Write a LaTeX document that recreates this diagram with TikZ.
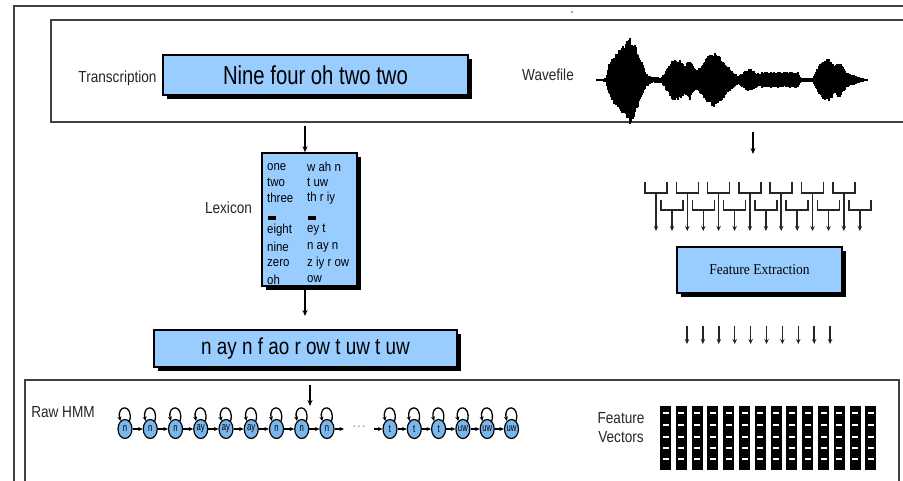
\documentclass[tikz,border=0pt]{standalone}
\usepackage{fontspec}
\setmainfont{Liberation Sans}
\newfontfamily\serifface{Liberation Serif}
\usetikzlibrary{arrows.meta,shapes.geometric}
\definecolor{boxblue}{RGB}{153,204,255}
\definecolor{nodeblue}{RGB}{120,182,236}
\definecolor{dotblue}{RGB}{110,150,200}
\newcommand{\cnd}[2][0.85]{\scalebox{#1}[1]{#2}}
\begin{document}
\begin{tikzpicture}[x=1pt,y=-1pt,
  frame/.style={draw=black!75, line width=1.8pt},
  bx/.style={draw=black, line width=1.5pt, fill=boxblue, inner sep=0,
    preaction={fill=black, transform canvas={shift={(4pt,-4pt)}}}},
  lbl/.style={font=\fontsize{16}{18}\selectfont, inner sep=0, text=black!85},
  lex/.style={font=\fontsize{13}{13}\selectfont, inner sep=0, anchor=west},
  arr/.style={line width=1.4pt, -{Stealth[length=6pt,width=5pt]}},
  sarr/.style={line width=1.3pt, -{Stealth[length=4.5pt,width=4pt]}},
  hs/.style={ellipse, draw=black, line width=1.2pt, fill=nodeblue,
    minimum width=14pt, minimum height=19pt, inner sep=0,
    font=\fontsize{11}{11}\selectfont},
  fbl/.style={line width=1.5pt, draw=black!85},
  ftip/.style={-{Stealth[length=5pt,width=4.5pt]}},
]
\useasboundingbox (0,0) rectangle (903,480);
\clip (0,0) rectangle (903,480);

% frames
\draw[frame] (14,495) -- (14,6) -- (910,6);
\draw[frame] (910,20) -- (51,20) -- (51,122) -- (910,122);
\draw[frame] (25,495) -- (25,380) -- (899,380) -- (899,495);
\fill[black!70] (572,12) circle (0.9);

% top row
\node[lbl] (ltr) at (117.5,78) {\cnd{Transcription}};
\node[bx, minimum width=305pt, minimum height=40pt] (trans) at (315.5,75)
  {\fontsize{26}{28}\selectfont\cnd[0.78]{Nine four oh two two}};
\node[lbl] (lwav) at (548,75) {\cnd{Wavefile}};

% waveform
\pgfmathsetseed{11}
\draw[line width=2.2pt] (596,80) -- (868,80);
\foreach \xa/\aa/\xb/\ab in {598/1/606/2, 606/2/609/16, 609/16/614/26, 614/26/620/32,
  620/32/626/40, 626/40/630/45, 630/45/634/40, 634/40/638/28, 638/28/642/18,
  642/18/646/7, 646/7/652/3, 652/3/662/3, 662/3/666/10, 666/10/672/20,
  672/20/678/22, 678/22/684/15, 684/15/690/20, 690/20/696/10, 696/10/702/16,
  702/16/708/24, 708/24/714/28, 714/28/720/24, 720/24/726/16, 726/16/732/10,
  732/10/738/4, 738/4/744/9, 744/9/750/12, 750/12/756/8, 756/8/760/6,
  760/6/762/8, 762/8/798/8, 798/8/801/2, 801/2/813/2, 813/2/817/12,
  817/12/823/20, 823/20/829/22, 829/22/835/15, 835/15/840/18, 840/18/846/8,
  846/8/856/4, 856/4/866/1}{
  \foreach \x in {\xa,...,\xb}{
    \pgfmathsetmacro\amp{(\aa+(\ab-\aa)*(\x-\xa)/(\xb-\xa))*(0.78+0.22*rnd)}
    \pgfmathsetmacro\ampb{(\aa+(\ab-\aa)*(\x-\xa)/(\xb-\xa))*(0.78+0.22*rnd)}
    \draw[line width=1.6pt] (\x,80-\amp) -- (\x,80+\ampb);
  }
}

% lexicon
\node[lbl] (llex) at (228.5,208) {\cnd{Lexicon}};
\node[bx, minimum width=95pt, minimum height=133pt] (lexb) at (309.5,219.5) {};
\foreach \w/\p/\y [count=\i] in {one/w ah n/167, two/t uw/182.5, three/th r iy/198,
  eight/ey t/230, nine/n ay n/247, zero/z iy r ow/263, oh/ow/279.5}{
  \node[lex] (lw\i) at (267,\y) {\cnd[0.88]{\w}};
  \node[lex] (lp\i) at (307,\y) {\cnd[0.88]{\p}};
}
\fill[black] (268,216) rectangle (276,219.5);
\fill[black] (308,216) rectangle (316,219.5);
\coordinate (a1) at (305,126);
\draw[arr] (a1) -- (a1 |- lexb.north);
\coordinate (a2) at (305,316);
\draw[arr] (a2 |- lexb.south) -- (a2);

% phone string
\node[bx, minimum width=303pt, minimum height=37pt] (phon) at (305.5,348.5)
  {\fontsize{23}{25}\selectfont\cnd[0.82]{n ay n f ao r ow t uw t uw}};

% HMM
\node[lbl] (lhmm) at (63,412) {\cnd{Raw HMM}};
\foreach \x/\l [count=\i] in {125/n, 150.25/n, 175.5/n, 200.75/ay, 226/ay, 251.25/ay,
  276.5/n, 301.75/n, 327/n, 390/t, 414.3/t, 438.6/t, 462.9/uw, 487.2/uw, 511.5/uw}{
  \node[hs] (h\i) at (\x,429) {\cnd[0.7]{\l}};
  \draw[sarr] (h\i.60) .. controls +(4,-17) and +(-4,-17) .. (h\i.120);
}
\foreach \i [evaluate=\i as \j using int(\i+1)] in {1,...,8,10,11,12,13,14}{
  \draw[sarr] (h\i.east) -- (h\j.west);
}
\coordinate (d1) at (344,429);
\coordinate (d2) at (374,429);
\draw[sarr] (h9.east) -- (d1);
\node[inner sep=0, text=dotblue, font=\fontsize{14}{14}\selectfont] (dots) at (359,428) {···};
\draw[sarr] (d2) -- (h10.west);
\coordinate (a3) at (310,385);
\draw[arr] (a3) -- (310,406);

% filter bank
\coordinate (a4) at (753,132);
\draw[arr] (a4) -- (753,154);
\foreach \k in {0,...,6}{
  \pgfmathsetmacro\s{656+31.3*\k}
  \pgfmathsetmacro\t{\s+16}
  \draw[fbl] (\s-11,182) -- (\s-11,193) -- (\s+11,193) -- (\s+11,182);
  \draw[fbl, ftip] (\s,193) -- (\s,231);
  \draw[fbl] (\t-11,200) -- (\t-11,210) -- (\t+11,210) -- (\t+11,200);
  \draw[fbl, ftip] (\t,210) -- (\t,231);
}
\node[bx, minimum width=165pt, minimum height=46pt] (fext) at (759.5,270)
  {\serifface\fontsize{15}{16}\selectfont\cnd[0.9]{Feature Extraction}};
\foreach \k in {0,...,9}{
  \draw[fbl, ftip] (687+15.9*\k,326) -- (687+15.9*\k,344);
}

% feature vectors
\node[lbl] (lfe) at (621,418) {\cnd{Feature}};
\node[lbl] (lve) at (621,437) {\cnd{Vectors}};
\foreach \k in {0,...,13}{
  \pgfmathsetmacro\xl{660+15.8*\k}
  \fill[black] (\xl,406) rectangle (\xl+11,470);
  \foreach \yy in {413,425,437,448,459}{
    \fill[white] (\xl+2.5,\yy-1) rectangle (\xl+8.5,\yy+1);
  }
}
\end{tikzpicture}
\end{document}
